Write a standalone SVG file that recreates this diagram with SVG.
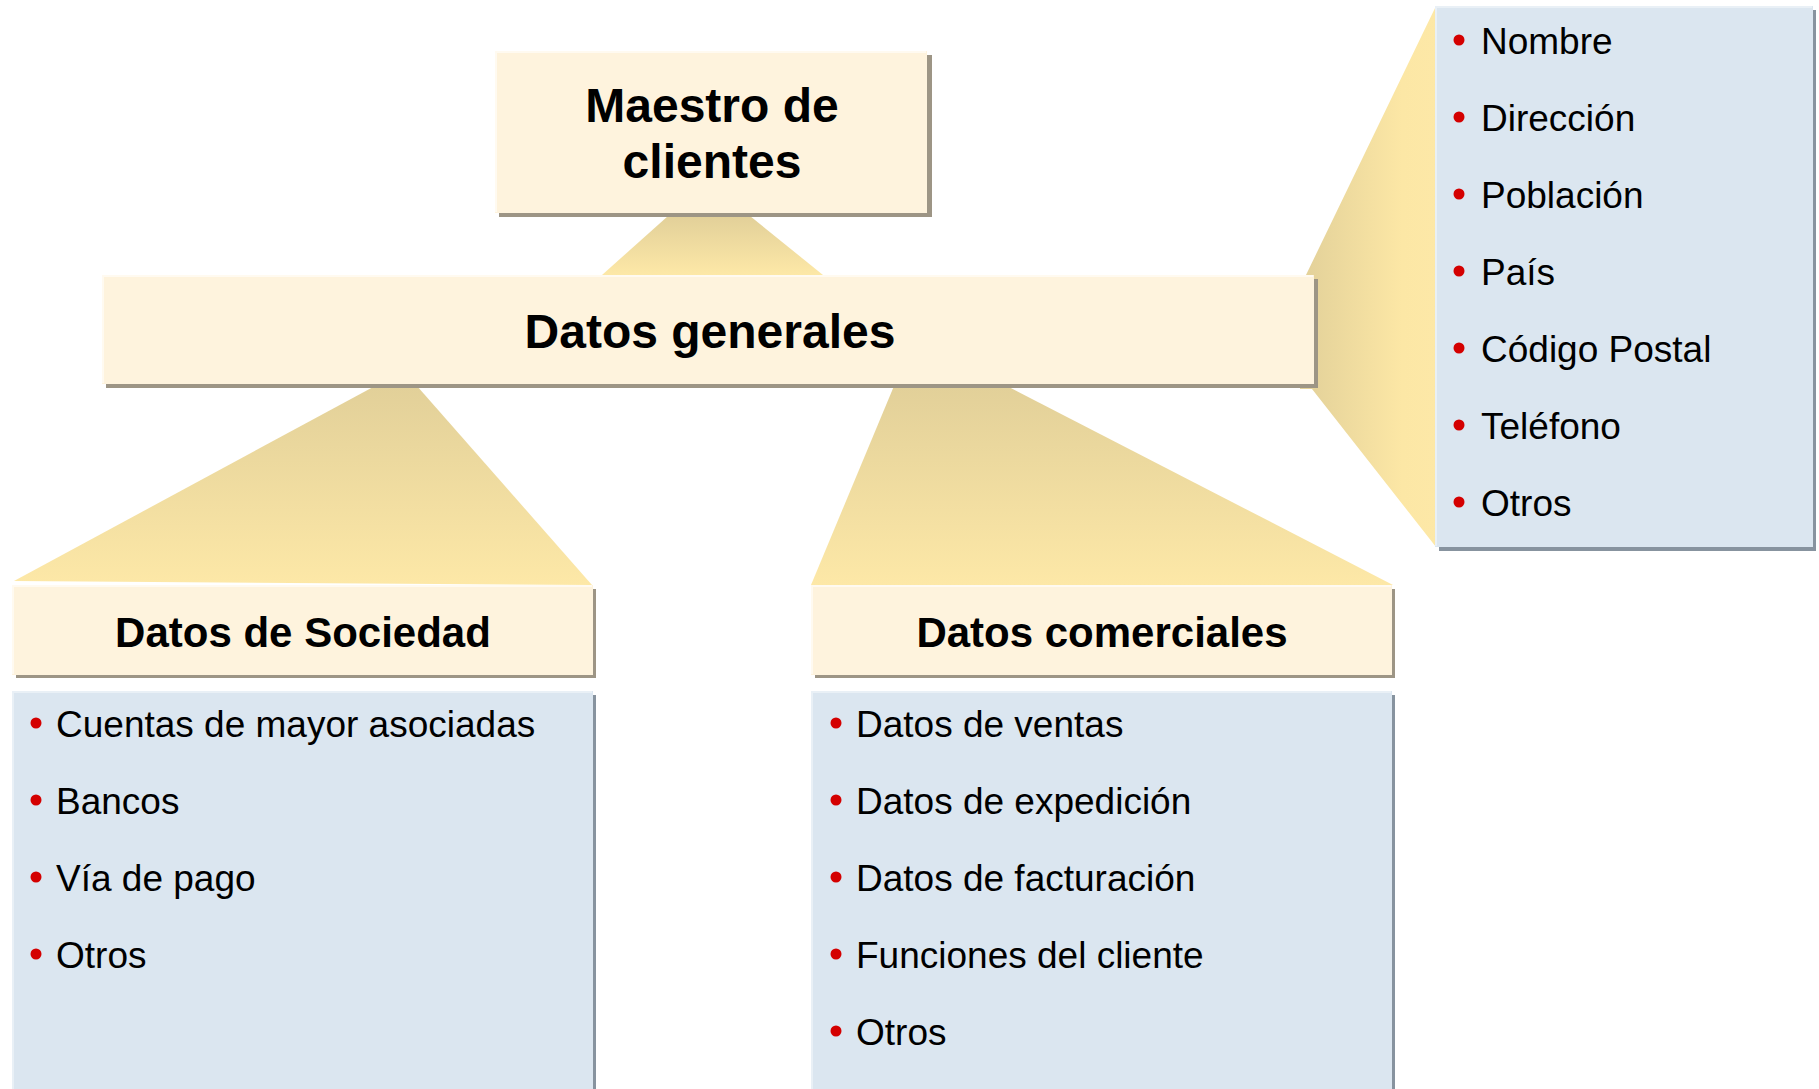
<svg xmlns="http://www.w3.org/2000/svg" width="1819" height="1089" viewBox="0 0 1819 1089">
  <defs>
    <linearGradient id="fanV" x1="0" y1="0" x2="0" y2="1">
      <stop offset="0" stop-color="#e2d099"/>
      <stop offset="1" stop-color="#fde8a7"/>
    </linearGradient>
    <linearGradient id="fanH" x1="0" y1="0" x2="1" y2="0">
      <stop offset="0" stop-color="#e2d099"/>
      <stop offset="0.75" stop-color="#fce7a5"/>
      <stop offset="1" stop-color="#fde8a7"/>
    </linearGradient>
    <style>
      .box { fill: #fef3dd; }
      .boxhl { fill: none; stroke: #fffaf0; stroke-width: 2; }
      .shadow { fill: #9d9585; }
      .panel { fill: #dbe6f0; }
      .pshadow { fill: #87939f; }
      .phl { fill: none; stroke: #e9f0f6; stroke-width: 2; }
      .h1 { font-family: "Liberation Sans", Arial, sans-serif; font-weight: bold; font-size: 48px; fill: #000; text-anchor: middle; }
      .h2 { font-family: "Liberation Sans", Arial, sans-serif; font-weight: bold; font-size: 42px; fill: #000; text-anchor: middle; }
      .item { font-family: "Liberation Sans", Arial, sans-serif; font-size: 37px; fill: #000; }
      .bullet { fill: #d40000; }
    </style>
  </defs>

  <rect x="0" y="0" width="1819" height="1089" fill="#ffffff"/>

  <g id="connectors">
    <polygon points="668,216 750,216 823,275 602,275" fill="url(#fanV)"/>
    <polygon points="375,386 417,386 592,585 14,581" fill="url(#fanV)"/>
    <polygon points="894,386 1007,386 1393,585 811,585" fill="url(#fanV)"/>
    <polygon points="1300,275 1306,275 1436,6 1436,547 1312,389 1300,389" fill="url(#fanH)"/>
  </g>

  <g id="maestro">
    <rect class="shadow" x="499" y="55" width="433" height="162"/>
    <rect class="box" x="495" y="51" width="432" height="162"/>
    <polyline class="boxhl" points="496,212 496,52 926,52"/>
    <text class="h1" x="712" y="122">Maestro de</text>
    <text class="h1" x="712" y="178">clientes</text>
  </g>

  <g id="datos-generales">
    <rect class="shadow" x="106" y="279" width="1212" height="109"/>
    <rect class="box" x="102" y="275" width="1212" height="109"/>
    <polyline class="boxhl" points="103,383 103,276 1313,276"/>
    <text class="h1" x="710" y="348">Datos generales</text>
  </g>

  <g id="datos-sociedad">
    <rect class="shadow" x="16" y="589" width="580" height="89"/>
    <rect class="box" x="12" y="585" width="581" height="90"/>
    <polyline class="boxhl" points="13,674 13,586 592,586"/>
    <text class="h2" x="303" y="647">Datos de Sociedad</text>
  </g>

  <g id="lista-sociedad">
    <rect class="pshadow" x="16" y="695" width="580" height="400"/>
    <rect class="panel" x="12" y="691" width="581" height="400"/>
    <polyline class="phl" points="13,1090 13,692 592,692"/>
    <circle class="bullet" cx="36" cy="723" r="5.5"/>
    <text class="item" x="56" y="737">Cuentas de mayor asociadas</text>
    <circle class="bullet" cx="36" cy="800" r="5.5"/>
    <text class="item" x="56" y="814">Bancos</text>
    <circle class="bullet" cx="36" cy="877" r="5.5"/>
    <text class="item" x="56" y="891">Vía de pago</text>
    <circle class="bullet" cx="36" cy="954" r="5.5"/>
    <text class="item" x="56" y="968">Otros</text>
  </g>

  <g id="datos-comerciales">
    <rect class="shadow" x="815" y="589" width="580" height="89"/>
    <rect class="box" x="811" y="585" width="581" height="90"/>
    <polyline class="boxhl" points="812,674 812,586 1391,586"/>
    <text class="h2" x="1102" y="647">Datos comerciales</text>
  </g>

  <g id="lista-comerciales">
    <rect class="pshadow" x="815" y="695" width="580" height="400"/>
    <rect class="panel" x="811" y="691" width="581" height="400"/>
    <polyline class="phl" points="812,1090 812,692 1391,692"/>
    <circle class="bullet" cx="836" cy="723" r="5.5"/>
    <text class="item" x="856" y="737">Datos de ventas</text>
    <circle class="bullet" cx="836" cy="800" r="5.5"/>
    <text class="item" x="856" y="814">Datos de expedición</text>
    <circle class="bullet" cx="836" cy="877" r="5.5"/>
    <text class="item" x="856" y="891">Datos de facturación</text>
    <circle class="bullet" cx="836" cy="954" r="5.5"/>
    <text class="item" x="856" y="968">Funciones del cliente</text>
    <circle class="bullet" cx="836" cy="1031" r="5.5"/>
    <text class="item" x="856" y="1045">Otros</text>
  </g>

  <g id="lista-generales">
    <rect class="pshadow" x="1439" y="10" width="377" height="541"/>
    <rect class="panel" x="1435" y="6" width="378" height="541"/>
    <polyline class="phl" points="1436,546 1436,7 1812,7"/>
    <circle class="bullet" cx="1459" cy="40" r="5.5"/>
    <text class="item" x="1481" y="54">Nombre</text>
    <circle class="bullet" cx="1459" cy="117" r="5.5"/>
    <text class="item" x="1481" y="131">Dirección</text>
    <circle class="bullet" cx="1459" cy="194" r="5.5"/>
    <text class="item" x="1481" y="208">Población</text>
    <circle class="bullet" cx="1459" cy="271" r="5.5"/>
    <text class="item" x="1481" y="285">País</text>
    <circle class="bullet" cx="1459" cy="348" r="5.5"/>
    <text class="item" x="1481" y="362">Código Postal</text>
    <circle class="bullet" cx="1459" cy="425" r="5.5"/>
    <text class="item" x="1481" y="439">Teléfono</text>
    <circle class="bullet" cx="1459" cy="502" r="5.5"/>
    <text class="item" x="1481" y="516">Otros</text>
  </g>
</svg>
